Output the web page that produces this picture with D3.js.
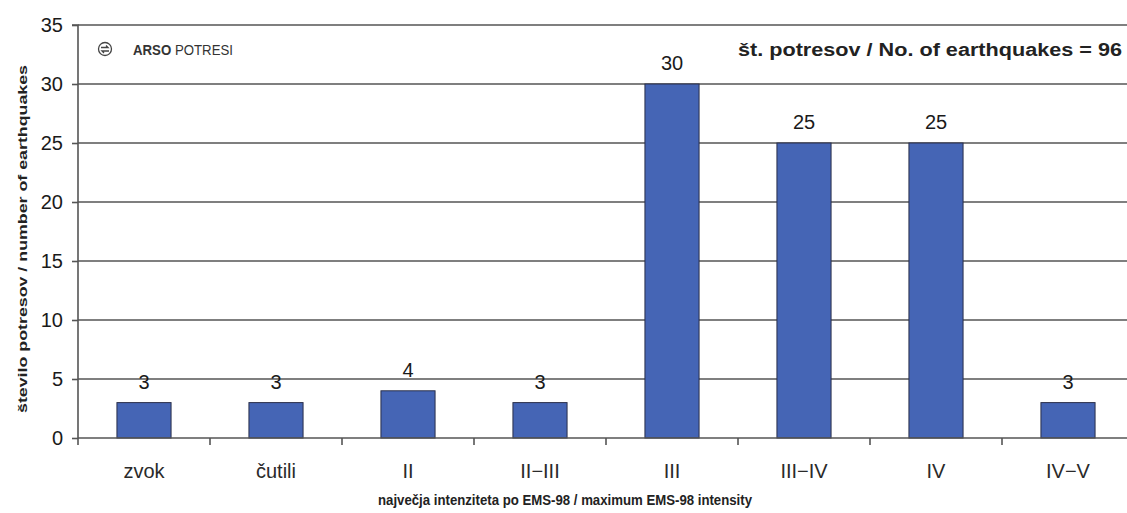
<!DOCTYPE html>
<html><head><meta charset="utf-8">
<script src="https://cdn.jsdelivr.net/npm/d3@7"></script>
<style>body{margin:0;background:#fff}svg{display:block}</style>
</head><body>
<svg id="c" width="1127" height="513"></svg>
<script>
const categories = ["zvok","čutili","II","II\u2212III","III","III\u2212IV","IV","IV\u2212V"];
const counts = [3,3,4,3,30,25,25,3];
const yTicks = [0,5,10,15,20,25,30,35];
const totalLabel = "št. potresov / No. of earthquakes = 96";
const yTitle = "število potresov / number of earthquakes";
const xTitle = "največja intenziteta po EMS-98 / maximum EMS-98 intensity";

(function(){
const svg = d3.select("#c");
const mLeft = 78, mTop = 25, mBottom = 438, mRight = 1134;
const x = d3.scaleBand().domain(categories).range([mLeft, mRight]).paddingInner(0).paddingOuter(0);
const y = d3.scaleLinear().domain([0,35]).range([mBottom, mTop]);
const font = "Arial, 'Liberation Sans', sans-serif";
const lineCol = "#555";

// gridlines
svg.append("g").selectAll("line").data(yTicks.filter(d=>d>0)).join("line")
  .attr("x1", mLeft).attr("x2", 1127).attr("y1", d=>y(d)).attr("y2", d=>y(d))
  .attr("stroke", lineCol).attr("stroke-width", 1.6);

// bars
const bw = x.bandwidth()*0.41;
svg.append("g").selectAll("rect").data(counts).join("rect")
  .attr("x", (d,i)=>x(categories[i]) + x.bandwidth()/2 - bw/2)
  .attr("y", d=>y(d)).attr("width", bw).attr("height", d=>y(0)-y(d))
  .attr("fill", "#4565b5").attr("stroke", "#2a2f4a").attr("stroke-width", 1);

// value labels
svg.append("g").selectAll("text").data(counts).join("text")
  .attr("x", (d,i)=>x(categories[i]) + x.bandwidth()/2)
  .attr("y", d=>y(d) - 14)
  .attr("text-anchor","middle").attr("font-family", font).attr("font-size", 20).attr("fill","#1a1a1a")
  .text(d=>d);

// y axis
const ya = svg.append("g").attr("transform", `translate(${mLeft},0)`)
  .call(d3.axisLeft(y).tickValues(yTicks).tickSize(6).tickPadding(9));
ya.select(".domain").attr("stroke",lineCol).attr("stroke-width",1.6).attr("d", `M-6,${mTop}H0V${mBottom}`);
ya.selectAll(".tick line").attr("stroke",lineCol).attr("stroke-width",1.6);
ya.selectAll(".tick text").attr("font-family", font).attr("font-size", 20).attr("fill","#1a1a1a");

// x axis
const xa = svg.append("g").attr("transform", `translate(0,${mBottom})`)
  .call(d3.axisBottom(x).tickSize(0).tickPadding(26));
xa.select(".domain").attr("stroke",lineCol).attr("stroke-width",1.6).attr("d", `M${mLeft},0H1127`);
xa.selectAll(".tick text").attr("font-family", font).attr("font-size", 20).attr("fill","#2a2a2a");
// x category boundary ticks
svg.append("g").selectAll("line").data(categories).join("line")
  .attr("x1", d=>x(d)).attr("x2", d=>x(d)).attr("y1", mBottom).attr("y2", mBottom+7)
  .attr("stroke",lineCol).attr("stroke-width",1.6);

// titles
svg.append("text").attr("transform", `translate(27,239) rotate(-90)`)
  .attr("text-anchor","middle").attr("font-family", font).attr("font-size", 13.5).attr("font-weight","bold").attr("fill","#222")
  .attr("textLength", 348).attr("lengthAdjust","spacingAndGlyphs")
  .text(yTitle);
svg.append("text").attr("x", 565).attr("y", 505)
  .attr("text-anchor","middle").attr("font-family", font).attr("font-size", 14.5).attr("font-weight","bold").attr("fill","#222")
  .attr("textLength", 374).attr("lengthAdjust","spacingAndGlyphs")
  .text(xTitle);
svg.append("text").attr("x", 1122).attr("y", 56)
  .attr("text-anchor","end").attr("font-family", font).attr("font-size", 18).attr("font-weight","bold").attr("fill","#222")
  .attr("textLength", 384).attr("lengthAdjust","spacingAndGlyphs")
  .text(totalLabel);

// logo
const lg = svg.append("g").attr("transform","translate(105,49)");
lg.append("circle").attr("r",6.5).attr("fill","none").attr("stroke","#444").attr("stroke-width",1.3);
lg.append("path").attr("d","M-4,-1.5 L3,-1.5 L1,-3.5 M4,2 L-3,2 L-1,4").attr("fill","none").attr("stroke","#444").attr("stroke-width",1.3);
const lt = svg.append("text").attr("x", 133).attr("y", 55).attr("font-family", font).attr("font-size", 14).attr("fill","#333")
  .attr("textLength", 100).attr("lengthAdjust","spacingAndGlyphs");
lt.append("tspan").attr("font-weight","bold").text("ARSO");
lt.append("tspan").text(" POTRESI");
})();
</script>
</body></html>
